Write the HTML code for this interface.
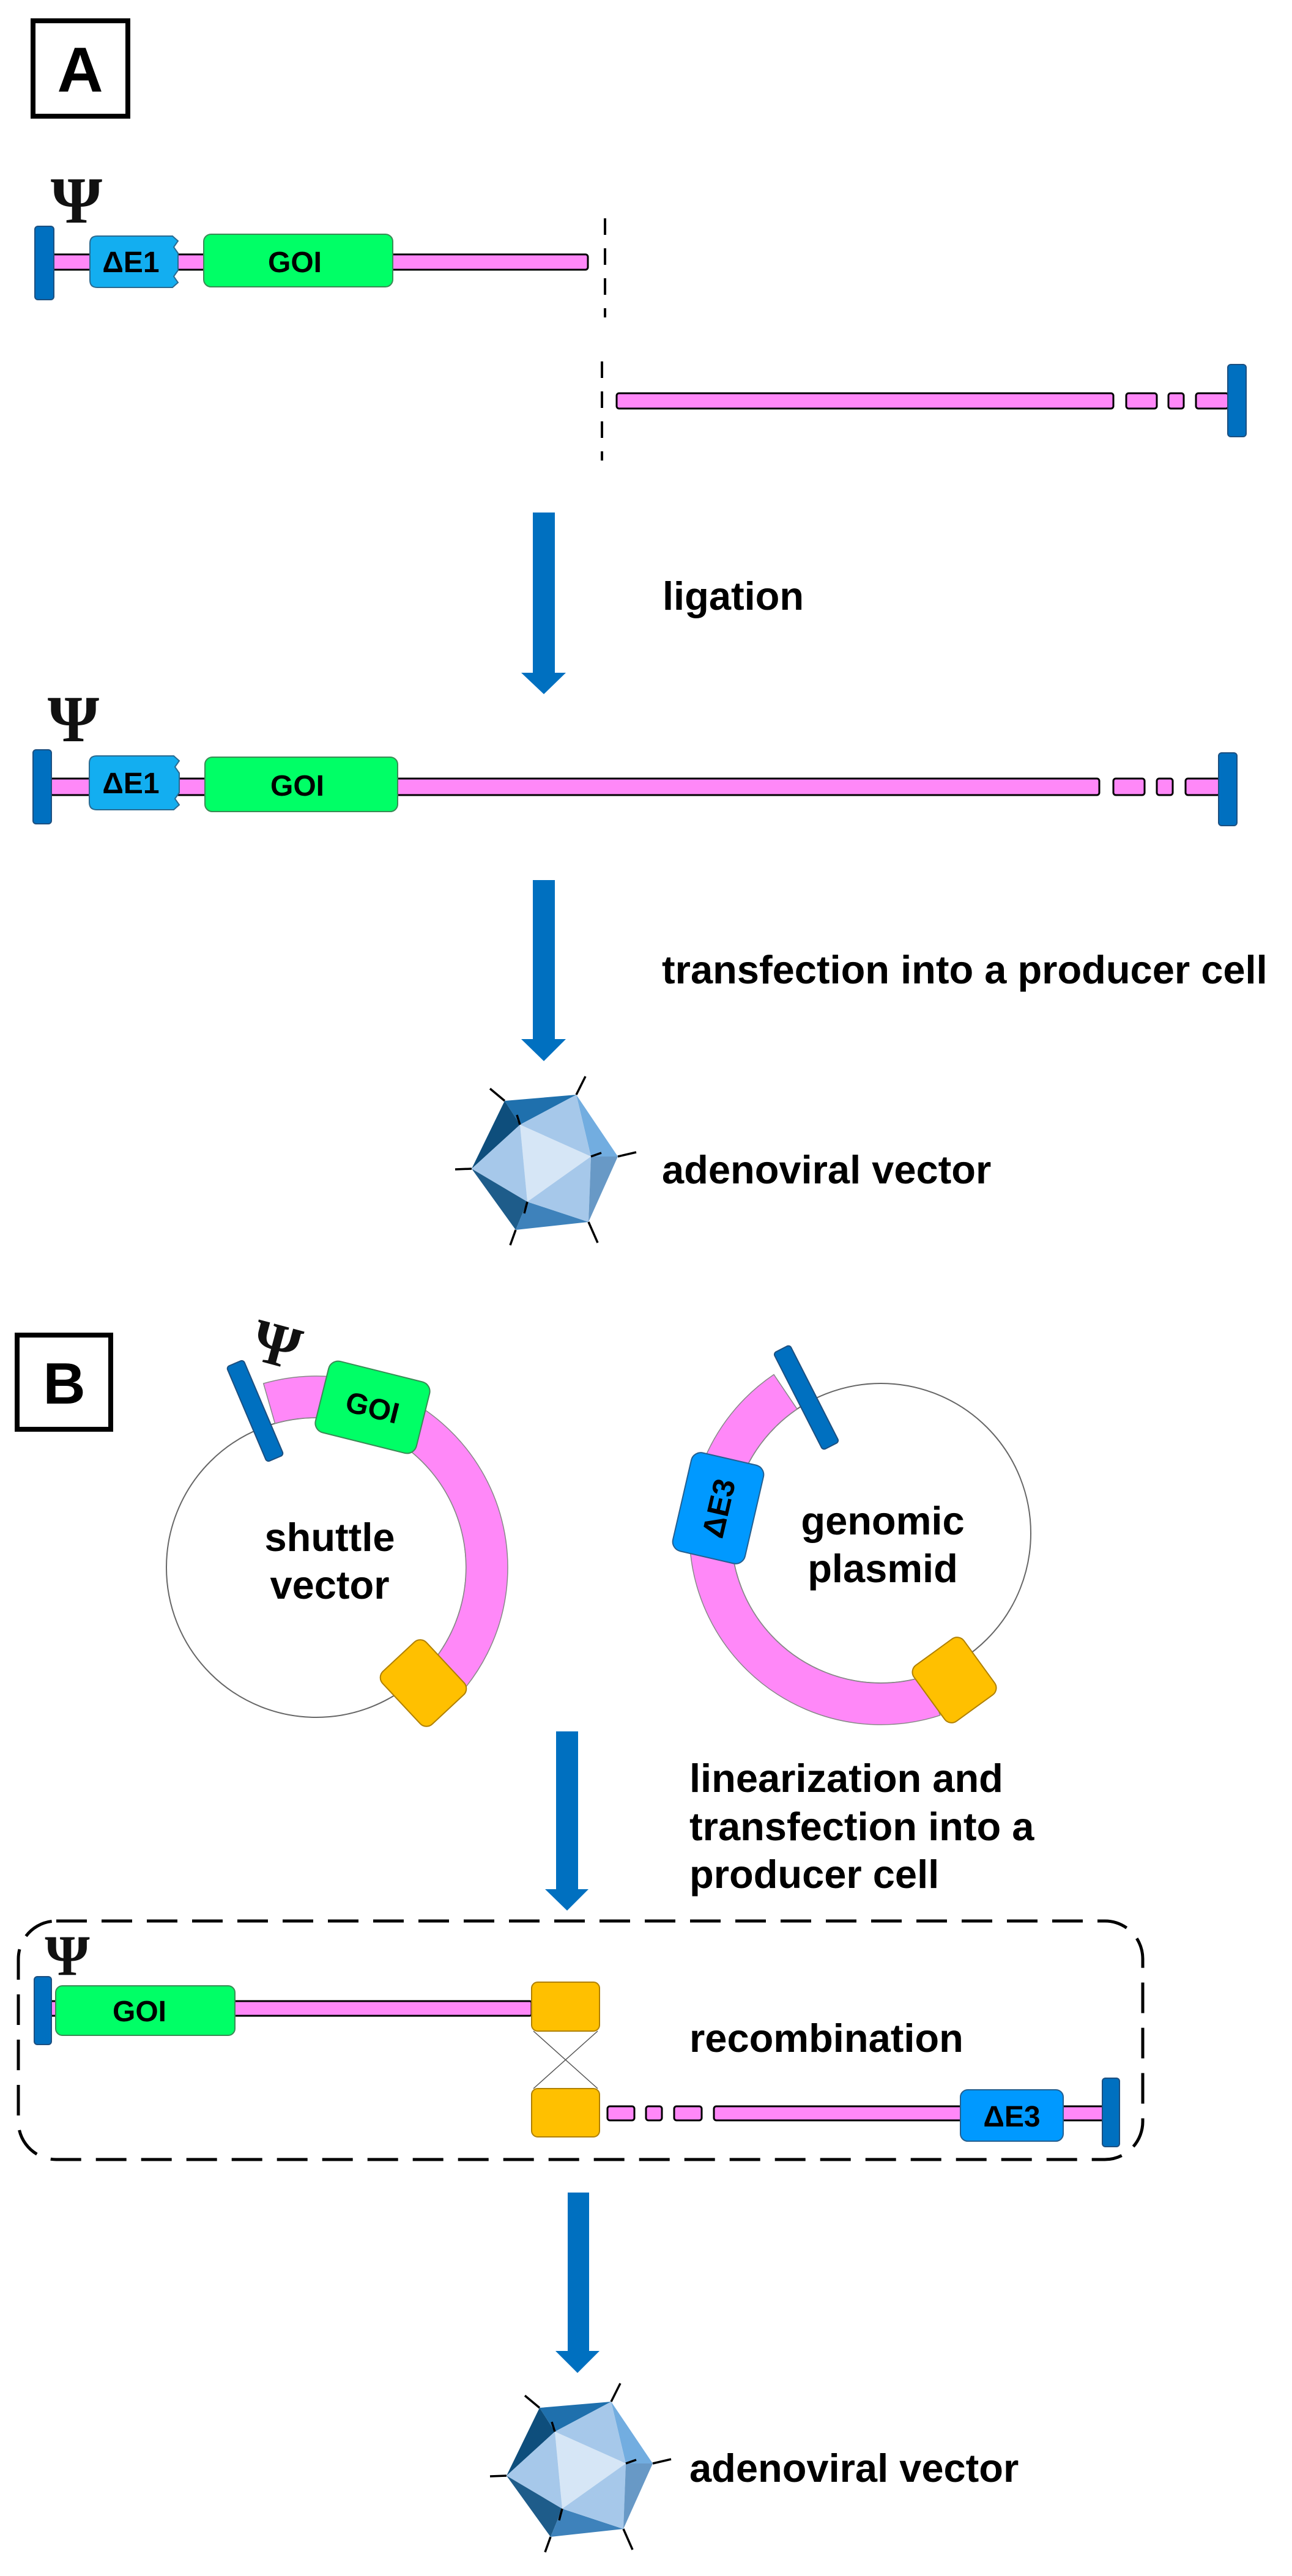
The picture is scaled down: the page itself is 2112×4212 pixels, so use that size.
<!DOCTYPE html>
<html><head><meta charset="utf-8"><style>
html,body{margin:0;padding:0;background:#fff;}
svg{display:block;}
text{font-family:"Liberation Sans",Arial,sans-serif;font-weight:bold;fill:#000;}
.psi{font-family:"Liberation Serif","DejaVu Serif",serif;font-weight:bold;fill:#111;}
.pink{fill:#ff88f8;stroke:#000;stroke-width:3;}
.cap{fill:#0070c0;stroke:#1c4f80;stroke-width:2;}
.goi{fill:#00ff66;stroke:#3a8a55;stroke-width:2;}
.yel{fill:#ffc000;stroke:#b08000;stroke-width:2;}
.arr{fill:#0070c0;}
</style></head><body>
<svg width="2112" height="4212" viewBox="0 0 2112 4212" xmlns="http://www.w3.org/2000/svg">
<defs>
<g id="virus">
  <polygon points="825,1800 942,1790 850,1839" fill="#1f70ad"/>
  <polygon points="825,1800 850,1839 771,1911" fill="#0e4e7c"/>
  <polygon points="942,1790 1010,1891 966,1891" fill="#72ade0"/>
  <polygon points="942,1790 966,1891 850,1839" fill="#a6c8ea"/>
  <polygon points="850,1839 966,1891 862,1965" fill="#d6e6f6"/>
  <polygon points="850,1839 862,1965 771,1911" fill="#a6c8ea"/>
  <polygon points="771,1911 862,1965 843,2011" fill="#1e5c8a"/>
  <polygon points="862,1965 962,1998 843,2011" fill="#3e82bb"/>
  <polygon points="862,1965 966,1891 962,1998" fill="#a6c8ea"/>
  <polygon points="966,1891 1010,1891 962,1998" fill="#6899c6"/>
  <g stroke="#000" stroke-width="3.5" fill="none">
    <line x1="825" y1="1800" x2="801" y2="1780"/>
    <line x1="942" y1="1790" x2="957" y2="1760"/>
    <line x1="1010" y1="1891" x2="1040" y2="1884"/>
    <line x1="962" y1="1998" x2="977" y2="2032"/>
    <line x1="843" y1="2011" x2="834" y2="2036"/>
    <line x1="771" y1="1911" x2="744" y2="1912"/>
    <line x1="845" y1="1823" x2="850" y2="1839"/>
    <line x1="966" y1="1891" x2="983" y2="1885"/>
    <line x1="862" y1="1965" x2="857" y2="1984"/>
  </g>
</g>
</defs>

<!-- Box A -->
<rect x="54" y="34" width="155" height="156" fill="none" stroke="#000" stroke-width="8"/>
<text x="131" y="150" font-size="104" text-anchor="middle">A</text>

<!-- Row 1 -->
<text class="psi" x="125" y="364" font-size="108" text-anchor="middle">Ψ</text>
<rect class="pink" x="84" y="416" width="877" height="25" rx="4"/>
<rect class="cap" x="57" y="370" width="31" height="120" rx="5"/>
<path d="M159,386 L282,386 L291,394 L284,404 L291,414 L291,442 L284,452 L291,462 L282,470 L159,470 Q147,470 147,458 L147,398 Q147,386 159,386 Z" fill="#13aef0" stroke="#2a6a90" stroke-width="2"/>
<text x="214" y="445" font-size="48" text-anchor="middle">ΔE1</text>
<rect class="goi" x="333" y="383" width="309" height="86" rx="12"/>
<text x="482" y="445" font-size="48" text-anchor="middle">GOI</text>
<line x1="989" y1="357" x2="989" y2="519" stroke="#000" stroke-width="4" stroke-dasharray="27 22"/>
<line x1="984" y1="591" x2="984" y2="753" stroke="#000" stroke-width="4" stroke-dasharray="27 22"/>

<!-- Row 2 -->
<rect class="pink" x="1008" y="643" width="812" height="25" rx="4"/>
<rect class="pink" x="1841" y="643" width="50" height="25" rx="4"/>
<rect class="pink" x="1910" y="643" width="25" height="25" rx="4"/>
<rect class="pink" x="1955" y="643" width="53" height="25" rx="4"/>
<rect class="cap" x="2007" y="596" width="30" height="118" rx="5"/>

<!-- Arrow 1 -->
<rect class="arr" x="871" y="838" width="36" height="263"/>
<polygon class="arr" points="852,1100 925,1100 889,1135"/>
<text x="1083" y="997" font-size="65">ligation</text>

<!-- Row 3 -->
<text class="psi" x="120" y="1212" font-size="108" text-anchor="middle">Ψ</text>
<rect class="pink" x="82" y="1273" width="1715" height="27" rx="4"/>
<rect class="pink" x="1820" y="1273" width="51" height="27" rx="4"/>
<rect class="pink" x="1891" y="1273" width="26" height="27" rx="4"/>
<rect class="pink" x="1938" y="1273" width="56" height="27" rx="4"/>
<rect class="cap" x="54" y="1226" width="30" height="121" rx="5"/>
<rect class="cap" x="1992" y="1231" width="30" height="119" rx="5"/>
<path d="M158,1236 L284,1236 L293,1244 L286,1254 L293,1264 L293,1296 L286,1306 L293,1316 L284,1324 L158,1324 Q146,1324 146,1312 L146,1248 Q146,1236 158,1236 Z" fill="#13aef0" stroke="#2a6a90" stroke-width="2"/>
<text x="214" y="1297" font-size="48" text-anchor="middle">ΔE1</text>
<rect class="goi" x="335" y="1238" width="315" height="89" rx="12"/>
<text x="486" y="1301" font-size="48" text-anchor="middle">GOI</text>

<!-- Arrow 2 -->
<rect class="arr" x="871" y="1439" width="36" height="261"/>
<polygon class="arr" points="852,1699 925,1699 889,1735"/>
<text x="1082" y="1608" font-size="65">transfection into a producer cell</text>

<!-- Virus A -->
<use href="#virus"/>
<text x="1082" y="1935" font-size="65">adenoviral vector</text>

<!-- Box B -->
<rect x="28" y="2183" width="153" height="154" fill="none" stroke="#000" stroke-width="8"/>
<text x="105" y="2295" font-size="96" text-anchor="middle">B</text>

<!-- Shuttle vector -->
<circle cx="517" cy="2563" r="245" fill="#fff" stroke="#666" stroke-width="2"/>
<path d="M430.7,2262.1 A313,313 0 0 1 738.3,2784.3 L690.2,2736.2 A245,245 0 0 0 449.5,2327.5 Z" fill="#ff88f8" stroke="#888" stroke-width="1.5"/>
<rect class="cap" x="402" y="2222.5" width="30" height="169" rx="5" transform="rotate(-23 417 2307)"/>
<text class="psi" x="453" y="2232" font-size="100" text-anchor="middle" transform="rotate(15 453 2195)">Ψ</text>
<g transform="rotate(14 609 2301)">
<rect class="goi" x="524" y="2241" width="170" height="120" rx="16"/>
<text x="609" y="2318" font-size="48" text-anchor="middle">GOI</text>
</g>
<rect class="yel" x="633" y="2703" width="118" height="98" rx="14" transform="rotate(47 692 2752)"/>
<text x="539" y="2536" font-size="65" text-anchor="middle">shuttle</text>
<text x="539" y="2614" font-size="65" text-anchor="middle">vector</text>

<!-- Genomic plasmid -->
<circle cx="1440" cy="2507" r="245" fill="#fff" stroke="#666" stroke-width="2"/>
<path d="M1536.7,2804.7 A313,313 0 0 1 1265.0,2247.5 L1303.0,2303.9 A245,245 0 0 0 1515.7,2740.0 Z" fill="#ff88f8" stroke="#888" stroke-width="1.5"/>
<rect class="cap" x="1303" y="2196" width="30" height="178" rx="5" transform="rotate(-27 1318 2285)"/>
<g transform="rotate(13 1174 2466)">
<rect x="1113.5" y="2383.5" width="121" height="165" rx="16" fill="#0099ff" stroke="#245f90" stroke-width="2"/>
</g>
<text x="1174" y="2484" font-size="50" text-anchor="middle" transform="rotate(-77 1174 2466)">ΔE3</text>
<rect class="yel" x="1503.5" y="2696.5" width="113" height="101" rx="14" transform="rotate(54 1560 2747)"/>
<text x="1443" y="2509" font-size="65" text-anchor="middle">genomic</text>
<text x="1443" y="2587" font-size="65" text-anchor="middle">plasmid</text>

<!-- Arrow 3 -->
<rect class="arr" x="909" y="2831" width="36" height="259"/>
<polygon class="arr" points="891,3089 962,3089 927,3124"/>
<text x="1127" y="2930" font-size="65">linearization and</text>
<text x="1127" y="3009" font-size="65">transfection into a</text>
<text x="1127" y="3087" font-size="65">producer cell</text>

<!-- Dashed recombination box -->
<rect x="30" y="3141" width="1838" height="390" rx="62" fill="none" stroke="#000" stroke-width="5" stroke-dasharray="50 24"/>
<text class="psi" x="110" y="3229" font-size="94" text-anchor="middle">Ψ</text>
<rect class="pink" x="82" y="3272" width="787" height="24" rx="3"/>
<rect class="cap" x="56" y="3232" width="28" height="111" rx="5"/>
<rect class="goi" x="91" y="3247" width="293" height="81" rx="11"/>
<text x="228" y="3305" font-size="48" text-anchor="middle">GOI</text>
<line x1="872" y1="3321" x2="977" y2="3415" stroke="#555" stroke-width="1.5"/>
<line x1="977" y1="3321" x2="872" y2="3415" stroke="#555" stroke-width="1.5"/>
<rect class="yel" x="869" y="3241" width="111" height="80" rx="10"/>
<rect class="yel" x="869" y="3415" width="111" height="79" rx="10"/>
<rect class="pink" x="993" y="3444" width="44" height="23" rx="4"/>
<rect class="pink" x="1056" y="3444" width="26" height="23" rx="4"/>
<rect class="pink" x="1102" y="3444" width="45" height="23" rx="4"/>
<rect class="pink" x="1167" y="3444" width="640" height="23" rx="4"/>
<rect x="1570" y="3417" width="168" height="84" rx="12" fill="#0099ff" stroke="#245f90" stroke-width="2"/>
<text x="1654" y="3477" font-size="48" text-anchor="middle">ΔE3</text>
<rect class="cap" x="1802" y="3398" width="28" height="112" rx="5"/>
<text x="1127" y="3355" font-size="65">recombination</text>

<!-- Arrow 4 -->
<rect class="arr" x="928" y="3585" width="35" height="260"/>
<polygon class="arr" points="908,3844 980,3844 944,3880"/>

<!-- Virus B -->
<use href="#virus" transform="translate(57 2137)"/>
<text x="1127" y="4058" font-size="65">adenoviral vector</text>
</svg>
</body></html>
